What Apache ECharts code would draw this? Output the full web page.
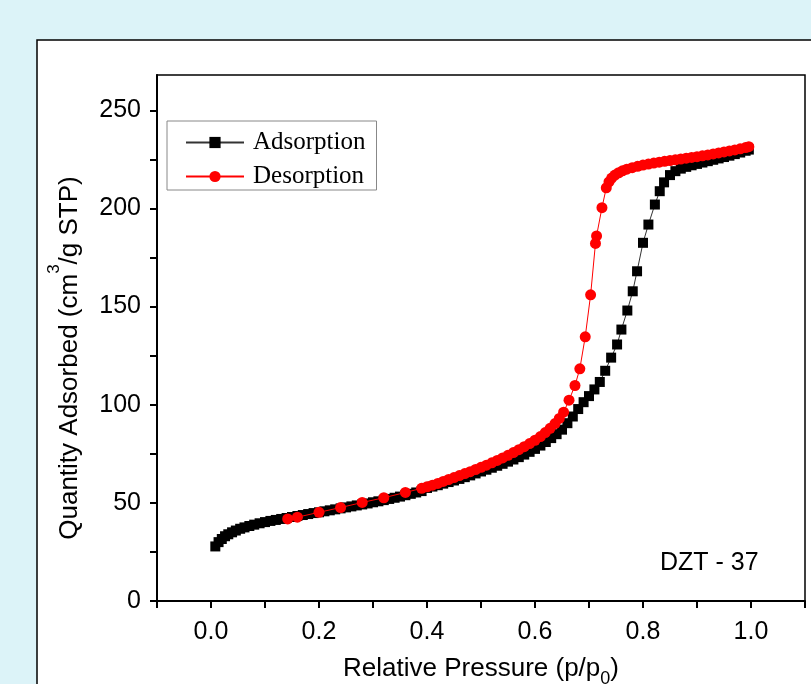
<!DOCTYPE html>
<html>
<head>
<meta charset="utf-8">
<script src="https://cdn.jsdelivr.net/npm/echarts@6/dist/echarts.min.js"></script>
<style>
html,body{margin:0;padding:0;background:#dcf3f8;}
#c{width:811px;height:684px;}
</style>
</head>
<body>
<div id="c"></div>
<script>
// ---- data ----
var seriesNames = ['Adsorption', 'Desorption'];
var adsP = [0.008,0.014,0.020,0.026,0.032,0.039,0.046,0.054,0.062,0.071,0.080,0.090,0.100,0.110,0.120,0.130,0.140,0.150,0.160,0.170,0.180,0.190,0.200,0.210,0.220,0.230,0.240,0.250,0.260,0.270,0.280,0.290,0.300,0.310,0.320,0.330,0.340,0.350,0.360,0.370,0.380,0.390,0.400,0.410,0.420,0.430,0.440,0.450,0.460,0.470,0.480,0.490,0.500,0.510,0.520,0.530,0.540,0.550,0.560,0.570,0.580,0.590,0.600,0.610,0.620,0.630,0.640,0.650,0.660,0.670,0.680,0.690,0.700,0.710,0.720,0.730,0.741,0.752,0.760,0.771,0.781,0.789,0.800,0.810,0.822,0.831,0.839,0.850,0.860,0.870,0.880,0.890,0.900,0.910,0.920,0.930,0.940,0.950,0.960,0.970,0.980,0.990,0.996];
var adsQ = [27.8,30.0,31.6,33.0,34.0,35.0,35.9,36.8,37.5,38.2,38.9,39.6,40.2,40.8,41.3,41.8,42.3,42.8,43.3,43.8,44.3,44.8,45.2,45.7,46.2,46.7,47.2,47.7,48.2,48.7,49.2,49.7,50.3,50.8,51.4,52.0,52.6,53.2,53.9,54.6,55.3,56.0,57.6,58.3,59.0,59.8,60.6,61.4,62.2,63.1,64.0,65.0,66.0,66.9,67.9,68.9,69.9,71.0,72.1,73.3,74.6,76.0,77.5,79.2,81.0,83.0,85.0,87.3,90.6,94.0,97.8,101.3,104.4,107.8,111.6,117.3,124.0,130.7,138.3,148.0,157.8,168.0,182.5,191.8,202.0,208.8,213.3,217.0,219.0,220.3,221.2,222.0,222.7,223.4,224.1,224.8,225.5,226.2,226.9,227.7,228.5,229.4,230.0];
var desP = [0.996,0.990,0.980,0.970,0.960,0.950,0.940,0.930,0.920,0.910,0.900,0.890,0.880,0.870,0.860,0.850,0.840,0.830,0.820,0.810,0.800,0.790,0.780,0.770,0.762,0.755,0.748,0.742,0.737,0.732,0.724,0.714,0.712,0.703,0.693,0.683,0.674,0.663,0.653,0.645,0.637,0.628,0.619,0.610,0.600,0.590,0.580,0.570,0.560,0.550,0.540,0.530,0.520,0.510,0.500,0.490,0.480,0.470,0.460,0.450,0.440,0.430,0.420,0.410,0.400,0.390,0.360,0.320,0.280,0.240,0.200,0.160,0.142];
var desQ = [231.5,231.0,230.4,229.8,229.3,228.8,228.3,227.8,227.3,226.8,226.4,226.0,225.6,225.2,224.8,224.4,224.0,223.6,223.1,222.6,222.1,221.5,220.8,220.0,219.2,218.2,217.0,215.5,213.5,210.5,200.4,186.0,182.2,156.0,134.6,118.3,109.8,102.3,96.2,93.0,90.4,88.0,85.8,83.8,81.9,80.2,78.6,77.1,75.6,74.2,72.9,71.6,70.4,69.2,68.1,67.0,65.9,64.9,63.9,62.9,61.9,60.9,59.9,59.0,58.2,57.4,55.3,52.6,50.2,47.6,45.2,42.7,41.8];
var xTickLabels = ['0.0','0.2','0.4','0.6','0.8','1.0'];
var yTickLabels = ['0','50','100','150','200','250'];
var sampleLabel = 'DZT - 37';

function pairs(p, q){ return p.map(function(v,i){ return [v, q[i]]; }); }

var chart = echarts.init(document.getElementById('c'), null, {renderer:'canvas'});
var sans = 'Liberation Sans, Arial, sans-serif';
var serif = 'Liberation Serif, Times New Roman, serif';

var option = {
  backgroundColor: '#dcf3f8',
  animation: false,
  graphic: [
    {type:'rect', z:-10, silent:true, shape:{x:37, y:40, width:800, height:700},
     style:{fill:'#ffffff', stroke:'#000', lineWidth:1.5}},
    {type:'text', z:100, left:660, top:551,
     style:{text: sampleLabel, font:'25px ' + sans, fill:'#000'}}
  ],
  grid: {left:157, right:6, top:75, bottom:83, show:true, borderColor:'#000', borderWidth:1.5,
         backgroundColor:'transparent', containLabel:false, outerBoundsMode:'none'},
  legend: {
    left:167, top:121, orient:'vertical',
    padding:[9,11,1,18], itemGap:9, itemWidth:58, itemHeight:14,
    borderColor:'#888', borderWidth:1, backgroundColor:'#fff',
    textStyle:{fontFamily:serif, fontSize:25, lineHeight:24, color:'#000', padding:[0,0,0,4]},
    data: seriesNames
  },
  xAxis: {
    type:'value', min:-0.1, max:1.1, interval:0.1,
    name:'{t|Relative Pressure (p/p}{sub|0}{t|)}',
    nameLocation:'middle', nameGap:55,
    nameTextStyle:{rich:{
      t:{fontFamily:sans, fontSize:26, color:'#000', verticalAlign:'top'},
      sub:{fontFamily:sans, fontSize:18, color:'#000', verticalAlign:'top', padding:[14,0,0,0]}
    }},
    axisLine:{onZero:false, lineStyle:{color:'#000', width:2}},
    axisTick:{inside:false, length:7, lineStyle:{color:'#000', width:2}},
    splitLine:{show:false},
    axisLabel:{margin:19, fontFamily:sans, fontSize:25, color:'#000',
      formatter:function(v){ var k=Math.round(v*10); return (k>=0 && k%2===0) ? xTickLabels[k/2] : ''; }}
  },
  yAxis: {
    type:'value', min:0, max:268, interval:25,
    name:'{t|Quantity Adsorbed (cm}{sup|3}{t|/g STP)}',
    nameLocation:'middle', nameGap:74, nameRotate:90,
    nameTextStyle:{padding:[0,40,0,0], rich:{
      t:{fontFamily:sans, fontSize:26, color:'#000', verticalAlign:'bottom'},
      sup:{fontFamily:sans, fontSize:17, color:'#000', verticalAlign:'bottom', padding:[0,0,20,0]}
    }},
    axisLine:{show:true, onZero:false, lineStyle:{color:'#000', width:2}},
    axisTick:{show:true, inside:false, length:7, lineStyle:{color:'#000', width:2}},
    splitLine:{show:false},
    axisLabel:{margin:16, fontFamily:sans, fontSize:25, color:'#000', showMaxLabel:false,
      formatter:function(v){ var k=Math.round(v); return (k%50===0) ? yTickLabels[k/50] : ''; }}
  },
  series: [
    {name:seriesNames[0], type:'line', data:pairs(adsP, adsQ), symbol:'rect', symbolSize:10,
     itemStyle:{color:'#000'}, lineStyle:{color:'#333', width:1}, z:2},
    {name:seriesNames[1], type:'line', data:pairs(desP, desQ), symbol:'circle', symbolSize:11,
     itemStyle:{color:'#ff0000'}, lineStyle:{color:'#ff0000', width:1}, z:3}
  ]
};
chart.setOption(option);
</script>
</body>
</html>
